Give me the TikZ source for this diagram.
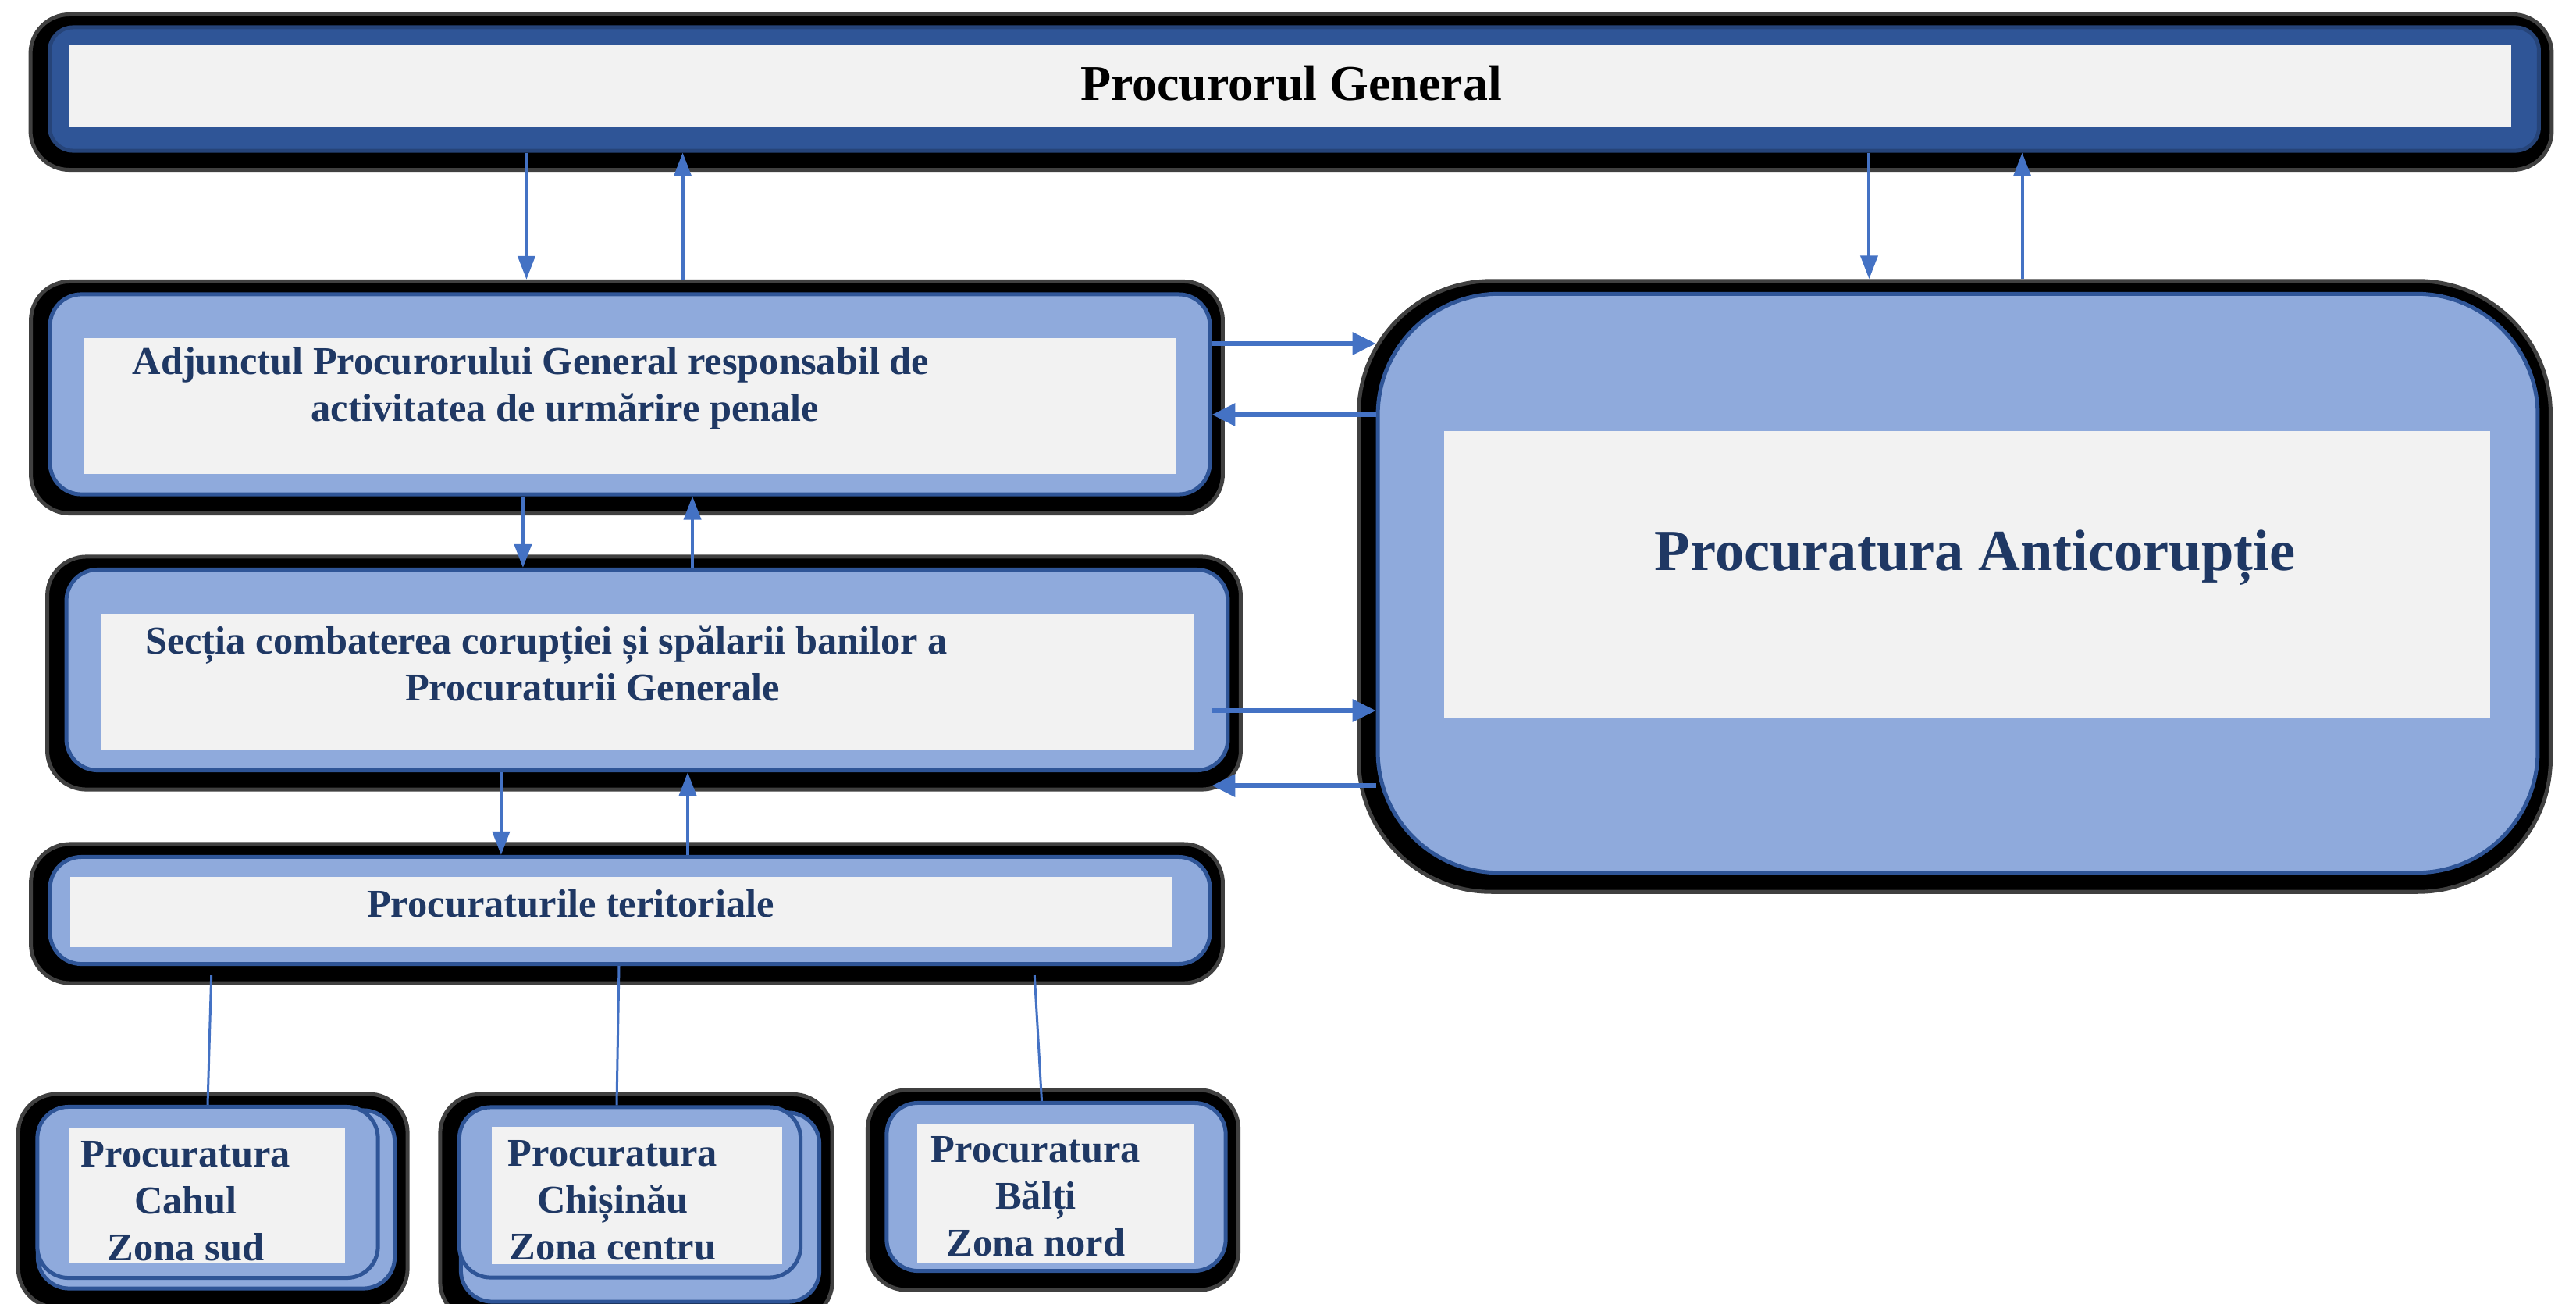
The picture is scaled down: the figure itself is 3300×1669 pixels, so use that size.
\documentclass[tikz,border=0pt]{standalone}
\usepackage{fontspec}
\setmainfont{Liberation Serif}
\usetikzlibrary{positioning,calc,fit,backgrounds,arrows.meta}
\definecolor{darkbox}{HTML}{2F5597}
\definecolor{lightbox}{HTML}{8FAADC}
\definecolor{paper}{HTML}{F2F2F2}
\definecolor{linkblue}{HTML}{4472C4}
\definecolor{navytext}{HTML}{1F3864}
\tikzset{
    glow/.style={fill=black, draw=black!75, line width=0.05cm, rounded corners=0.5cm, inner sep=0.18cm, xshift=-0.04cm, yshift=-0.04cm},
    outerbox/.style={fill=lightbox, draw=darkbox, line width=0.05cm, rounded corners=0.4cm, inner sep=0pt},
    innerbox/.style={fill=paper, inner sep=0pt},
    boxtext/.style={text=navytext, font=\bfseries\fontsize{14.35}{17}\selectfont, align=center, inner sep=0pt},
    arr/.style={linkblue, line width=0.04cm, -{Triangle[width=0.22cm,length=0.3cm]}},
    widearr/.style={linkblue, line width=0.06cm, -{Triangle[width=0.28cm,length=0.3cm]}},
    link/.style={linkblue, line width=0.03cm}
}

\begin{document}
\begin{tikzpicture}[x=0.01cm, y=-0.01cm]
    \useasboundingbox (0,0) rectangle (3300,1669);

    \node[outerbox, fill=darkbox, draw=darkbox!80!black, rounded corners=0.3cm, minimum width=31.87cm, minimum height=1.58cm] (pg) at (1658,114) {};
    \node[innerbox, minimum width=31.26cm, minimum height=1.05cm] (pgIn) at (1653,110) {};
    \node[font=\bfseries\fontsize{18.2}{22}\selectfont, inner sep=0pt] (pgText) at (1654,107) {Procurorul General};

    \node[outerbox, minimum width=14.85cm, minimum height=2.56cm] (adj) at (807,505) {};
    \node[innerbox, minimum width=13.99cm, minimum height=1.74cm] (adjIn) at (807,520) {};
    \node[boxtext] (adjText) at (724,497) {Adjunctul Procurorului General responsabil de\hspace*{0.88cm}\\activitatea de urmărire penale};

    \node[outerbox, minimum width=14.87cm, minimum height=2.57cm] (sec) at (829,858) {};
    \node[innerbox, minimum width=13.99cm, minimum height=1.74cm] (secIn) at (829,873) {};
    \node[boxtext] (secText) at (759,850) {Secția combaterea corupției și spălarii banilor a\hspace*{1.18cm}\\Procuraturii Generale};

    \node[outerbox, minimum width=14.85cm, minimum height=1.37cm] (ter) at (807,1166) {};
    \node[innerbox, minimum width=14.12cm, minimum height=0.9cm] (terIn) at (796,1168) {};
    \node[boxtext] (terText) at (731,1157) {Procuraturile teritoriale};

    \node[outerbox, rounded corners=1.55cm, minimum width=14.85cm, minimum height=7.41cm] (anti) at (2508,747) {};
    \node[innerbox, minimum width=13.40cm, minimum height=3.67cm] (antiIn) at (2520,736) {};
    \node[boxtext, font=\bfseries\fontsize{21.2}{25}\selectfont] (antiText) at (2530,714) {Procuratura Anticorupție};

    \node[outerbox, minimum width=4.57cm, minimum height=2.28cm] (cahulBack) at (277,1536) {};
    \node[outerbox, minimum width=4.36cm, minimum height=2.19cm] (cahul) at (266,1527) {};
    \node[innerbox, minimum width=3.53cm, minimum height=1.73cm] (cahulIn) at (265,1531) {};
    \node[boxtext] (cahulText) at (238,1538) {Procuratura\\Cahul\\Zona sud};

    \node[outerbox, minimum width=4.59cm, minimum height=2.42cm] (chisBack) at (820,1546) {};
    \node[outerbox, minimum width=4.37cm, minimum height=2.18cm] (chis) at (807,1527) {};
    \node[innerbox, minimum width=3.71cm, minimum height=1.76cm] (chisIn) at (816,1531) {};
    \node[boxtext] (chisText) at (785,1537) {Procuratura\\Chișinău\\Zona centru};

    \node[outerbox, minimum width=4.34cm, minimum height=2.15cm] (balti) at (1353,1520) {};
    \node[innerbox, minimum width=3.53cm, minimum height=1.78cm] (baltiIn) at (1352,1529) {};
    \node[boxtext] (baltiText) at (1327,1532) {Procuratura\\Bălți\\Zona nord};

    \begin{scope}[on background layer]
        \node[glow, fit=(pg)] (pgGlow) {};
        \node[glow, fit=(adj)] (adjGlow) {};
        \node[glow, fit=(sec)] (secGlow) {};
        \node[glow, fit=(ter)] (terGlow) {};
        \node[glow, rounded corners=1.7cm, fit=(anti)] (antiGlow) {};
        \node[glow, fit=(cahul)(cahulBack)] (cahulGlow) {};
        \node[glow, fit=(chis)(chisBack)] (chisGlow) {};
        \node[glow, fit=(balti)] (baltiGlow) {};
    \end{scope}

    \coordinate (v1) at ([xshift=6.13cm]pg.south west);
    \coordinate (v2) at ([xshift=8.13cm]pg.south west);
    \coordinate (v3) at ([xshift=23.32cm]pg.south west);
    \coordinate (v4) at ([xshift=25.28cm]pg.south west);
    \draw[arr] (v1) -- (v1 |- adjGlow.north);
    \draw[arr] (v2 |- adjGlow.north) -- (v2);
    \draw[arr] (v3) -- (v3 |- antiGlow.north);
    \draw[arr] (v4 |- antiGlow.north) -- (v4);

    \coordinate (v5) at ([xshift=6.08cm]adj.south west);
    \coordinate (v6) at ([xshift=8.25cm]adj.south west);
    \draw[arr] (v5) -- (v5 |- sec.north);
    \draw[arr] (v6 |- sec.north) -- (v6);

    \coordinate (v7) at ([xshift=5.59cm]sec.south west);
    \coordinate (v8) at ([xshift=7.98cm]sec.south west);
    \draw[arr] (v7) -- (v7 |- ter.north);
    \draw[arr] (v8 |- ter.north) -- (v8);

    \coordinate (h1) at ([yshift=0.65cm]adj.east);
    \coordinate (h2) at ([yshift=-0.26cm]adj.east);
    \coordinate (h3) at ([xshift=-0.23cm,yshift=-0.52cm]sec.east);
    \coordinate (h4) at ([xshift=-0.23cm,yshift=-1.48cm]sec.east);
    \draw[widearr] (h1) -- (h1 -| anti.west);
    \draw[widearr] (h2 -| anti.west) -- (h2);
    \draw[widearr] (h3) -- (h3 -| anti.west);
    \draw[widearr] (h4 -| anti.west) -- (h4);

    \coordinate (t1) at ([xshift=2.09cm,yshift=-0.12cm]ter.south west);
    \coordinate (t2) at ([xshift=7.31cm]ter.south west);
    \coordinate (t3) at ([xshift=12.63cm,yshift=-0.12cm]ter.south west);
    \draw[link] (t1) -- (cahul.north);
    \draw[link] (t2) -- ([xshift=2.04cm]chis.north west);
    \draw[link] (t3) -- ([xshift=2.01cm]balti.north west);
\end{tikzpicture}
\end{document}
